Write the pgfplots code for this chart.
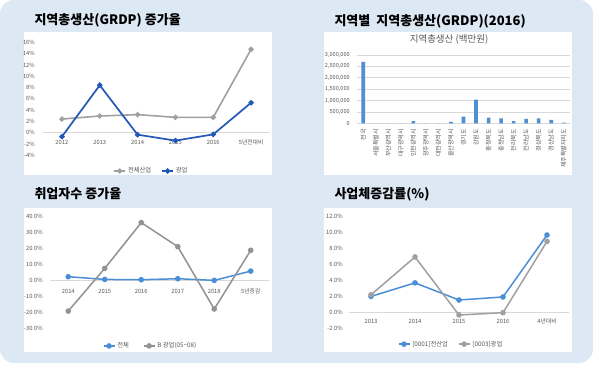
\documentclass[border=0pt]{standalone}
\usepackage{fontspec}
\setmainfont{Noto Sans CJK KR}
\usepackage{pgfplots}
\pgfplotsset{compat=1.18}
\definecolor{bgblue}{HTML}{DDE8F5}
\definecolor{tickgray}{HTML}{595959}
\definecolor{zgray}{HTML}{D9D9D9}
\definecolor{dblue}{HTML}{2458B8}
\definecolor{lblue}{HTML}{4A8FD6}
\definecolor{lgray}{HTML}{A0A0A0}
\definecolor{mgray}{HTML}{929292}
\definecolor{barblue}{HTML}{4F8FD2}
\newcommand{\tfont}{\fontsize{5.8}{7}\selectfont}
\newcommand{\lfont}{\fontsize{6.3}{7.5}\selectfont}
\newcommand{\hfont}{\fontsize{13}{15}\selectfont\bfseries}
\pgfplotsset{
 base/.style={scale only axis, enlargelimits=false, clip=false, anchor=south west,
   axis line style={draw=none}, major tick length=0pt, tick style={draw=none},
   tick label style={font=\tfont, text=tickgray},
   yticklabel style={anchor=east, inner sep=0pt},
   scaled y ticks=false,
   legend style={draw=none, fill=none, font=\lfont, text=tickgray, anchor=center,
     legend columns=-1, inner sep=0pt,
     /tikz/every even column/.append style={column sep=8pt}},
   legend image code/.code={\draw[mark repeat=2, mark phase=2, ##1] plot coordinates {(0pt,0pt) (5.5pt,0pt) (11pt,0pt)};},
   extra y ticks={0}, extra y tick labels={},
   extra y tick style={grid=major, major grid style={zgray, line width=0.8pt}},
 },
}
\begin{document}
\begin{tikzpicture}
\useasboundingbox (0pt,0pt) rectangle (599pt,369pt);
\fill[white] (0pt,0pt) rectangle (599pt,369pt);
\fill[bgblue, rounded corners=14pt] (0pt,6pt) rectangle (593pt,369pt);
\fill[white] (24pt,194pt) rectangle (272pt,337pt);
\fill[white] (324pt,194pt) rectangle (572pt,337pt);
\fill[white] (24pt,17pt) rectangle (272pt,161pt);
\fill[white] (324pt,17pt) rectangle (572pt,161pt);

\node[anchor=west, font=\hfont] at (31pt,349pt) {지역총생산(GRDP) 증가율};
\node[anchor=west, font=\hfont] at (331pt,348pt) {지역별\ \ 지역총생산(GRDP)(2016)};
\node[anchor=west, font=\hfont] at (31pt,175pt) {취업자수 증가율};
\node[anchor=west, font=\hfont] at (331pt,175pt) {사업체증감률(\%)};

% Chart 1
\begin{axis}[base, at={(43pt,213.7pt)}, width=227pt, height=113pt,
  xmin=-0.5, xmax=5.5, ymin=-4, ymax=16,
  xtick={0,...,5}, xticklabels={2012,2013,2014,2015,2016,5년전대비},
  xticklabel style={anchor=center, yshift=12.6pt},
  ytick={-4,-2,...,16},
  yticklabels={-4\%,-2\%,0\%,2\%,4\%,6\%,8\%,10\%,12\%,14\%,16\%},
  yticklabel style={xshift=-8pt},
  legend style={at={(0.478,-0.139)}}]
\addplot[color=lgray, line width=1.6pt, mark=*, mark size=1.8pt] coordinates {(0,2.42) (1,2.95) (2,3.2) (3,2.72) (4,2.72) (5,14.76)};
\addlegendentry{전체산업}
\addplot[color=dblue, line width=1.7pt, mark=*, mark size=1.8pt] coordinates {(0,-0.7) (1,8.4) (2,-0.35) (3,-1.4) (4,-0.3) (5,5.3)};
\addlegendentry{광업}
\end{axis}

% Chart 2
\node[font=\fontsize{9.5}{11}\selectfont, text=tickgray] at (449pt,329.7pt) {지역총생산 (백만원)};
\begin{axis}[base, at={(357pt,245.7pt)}, width=213pt, height=68.3pt,
  xmin=-0.5, xmax=16.5, ymin=0, ymax=3000000,
  ybar, bar width=3.6pt,
  ytick={0,500000,1000000,1500000,2000000,2500000,3000000},
  yticklabels={0,{500,000},{1,000,000},{1,500,000},{2,000,000},{2,500,000},{3,000,000}},
  yticklabel style={xshift=-7pt, font=\fontsize{5.6}{7}\selectfont},
  ymajorgrids, major grid style={zgray, line width=0.6pt},
  xtick={0,...,16},
  xticklabels={전국,서울특별시,부산광역시,대구광역시,인천광역시,광주광역시,대전광역시,울산광역시,경기도,강원도,충청북도,충청남도,전라북도,전라남도,경상북도,경상남도,제주특별자치도},
  xticklabel style={rotate=90, anchor=east, inner sep=0pt, font=\fontsize{6}{7}\selectfont},
  xticklabel shift=5.5pt]
\addplot[fill=barblue, draw=none] coordinates {(0,2700000) (1,0) (2,0) (3,0) (4,100000) (5,0) (6,0) (7,65000) (8,290000) (9,1040000) (10,245000) (11,215000) (12,100000) (13,190000) (14,215000) (15,145000) (16,30000)};
\end{axis}

% Chart 3
\begin{axis}[base, at={(50pt,40.3pt)}, width=219pt, height=112pt,
  xmin=-0.5, xmax=5.5, ymin=-30, ymax=40,
  xtick={0,...,5}, xticklabels={2014,2015,2016,2017,2018,5년증감},
  xticklabel style={anchor=center, yshift=37.7pt},
  ytick={-30,-20,...,40},
  yticklabels={-30.0\%,-20.0\%,-10.0\%,0.0\%,10.0\%,20.0\%,30.0\%,40.0\%},
  yticklabel style={xshift=-7pt},
  legend style={at={(0.459,-0.154)}, /tikz/every even column/.append style={column sep=12pt}}]
\addplot[color=lblue, line width=1.5pt, mark=*, mark size=2pt] coordinates {(0,2.5) (1,0.8) (2,0.6) (3,1.25) (4,0.2) (5,6.0)};
\addlegendentry{전체}
\addplot[color=mgray, line width=1.5pt, mark=*, mark size=2pt] coordinates {(0,-19) (1,7.7) (2,36.3) (3,21.3) (4,-17.7) (5,19)};
\addlegendentry{B 광업(05\textasciitilde 08)}
\end{axis}

% Chart 4
\begin{axis}[base, at={(349pt,40.7pt)}, width=220pt, height=111.6pt,
  xmin=-0.5, xmax=4.5, ymin=-2, ymax=12,
  xtick={0,...,4}, xticklabels={2013,2014,2015,2016,4년대비},
  xticklabel style={anchor=center, yshift=6.6pt},
  ytick={-2,0,...,12},
  yticklabels={-2.0\%,0.0\%,2.0\%,4.0\%,6.0\%,8.0\%,10.0\%,12.0\%},
  yticklabel style={xshift=-6pt},
  legend style={at={(0.464,-0.142)}}]
\addplot[color=lblue, line width=1.5pt, mark=*, mark size=2pt] coordinates {(0,2.0) (1,3.7) (2,1.55) (3,1.93) (4,9.7)};
\addlegendentry{[0001]전산업}
\addplot[color=lgray, line width=1.5pt, mark=*, mark size=2pt] coordinates {(0,2.2) (1,6.95) (2,-0.33) (3,-0.04) (4,8.9)};
\addlegendentry{[0003]광업}
\end{axis}
\end{tikzpicture}
\end{document}
